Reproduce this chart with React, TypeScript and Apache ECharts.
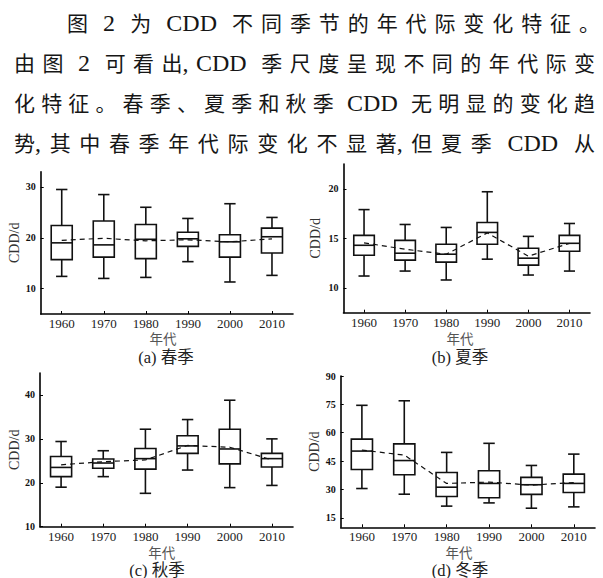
import React, { useEffect, useRef } from "react";
import * as echarts from "echarts";

// ---------- data ----------
const decades = ["1960", "1970", "1980", "1990", "2000", "2010"];

// each row: [lower whisker, Q1, median, Q3, upper whisker]
const springBox = [
  [12.4, 15.7, 19.0, 22.4, 29.5],
  [12.0, 16.2, 18.6, 23.3, 28.5],
  [12.2, 15.9, 19.7, 22.6, 26.0],
  [15.3, 18.3, 19.8, 21.1, 23.8],
  [11.3, 16.2, 19.2, 20.6, 26.7],
  [12.6, 17.0, 20.2, 21.9, 24.0],
];
const springMean = [19.5, 19.9, 19.4, 19.6, 19.2, 19.8];

const summerBox = [
  [11.2, 13.3, 14.3, 15.3, 17.9],
  [11.7, 12.8, 13.5, 14.8, 16.4],
  [10.8, 12.6, 13.4, 14.4, 16.1],
  [12.9, 14.4, 15.6, 16.6, 19.7],
  [11.3, 12.3, 13.0, 14.0, 15.2],
  [11.7, 13.7, 14.5, 15.3, 16.5],
];
const summerMean = [14.55, 13.9, 13.4, 15.55, 13.2, 14.5];

const autumnBox = [
  [19.0, 21.4, 23.5, 26.0, 29.4],
  [21.4, 23.3, 24.5, 25.4, 27.3],
  [17.6, 23.1, 25.5, 27.8, 32.2],
  [22.9, 26.7, 28.4, 30.7, 34.4],
  [18.9, 24.3, 27.7, 32.2, 38.8],
  [19.4, 23.6, 25.5, 26.7, 30.0],
];
const autumnMean = [24.1, 24.8, 25.2, 28.5, 28.1, 25.2];

const winterBox = [
  [30.5, 40.6, 50.3, 56.6, 74.5],
  [27.5, 37.8, 45.3, 54.1, 76.9],
  [21.2, 26.3, 31.2, 39.0, 49.6],
  [22.9, 25.6, 33.2, 39.9, 54.4],
  [20.1, 27.4, 32.5, 36.4, 42.7],
  [20.8, 28.4, 33.2, 38.1, 48.7],
];
const winterMean = [50.8, 48.2, 33.2, 33.9, 32.3, 33.7];

const springTicks = [10, 20, 30];
const summerTicks = [10, 15, 20];
const autumnTicks = [10, 20, 30, 40];
const winterTicks = [15, 30, 45, 60, 75, 90];

const panelTitles = ["(a) 春季", "(b) 夏季", "(c) 秋季", "(d) 冬季"];
const xAxisTitle = "年代";
const yAxisTitle = "CDD/d";

const paragraphLines = [
  "图 2 为 CDD 不同季节的年代际变化特征。",
  "由图 2 可看出,CDD 季尺度呈现不同的年代际变",
  "化特征。春季、夏季和秋季 CDD 无明显的变化趋",
  "势,其中春季年代际变化不显著,但夏季 CDD 从",
];

// ---------- layout ----------
const SERIF = '"Liberation Serif", "Times New Roman", serif';
const CJK = '"Noto Sans CJK SC", sans-serif';
const MIXED = '"Liberation Serif", "Noto Sans CJK SC", serif';

const panels = [
  { box: springBox, mean: springMean, ticks: springTicks, min: 5, max: 33,
    grid: { left: 40.7, top: 171.7, width: 252.3, height: 142.3 }, nameGap: 17.5,
    xName: [163, 338.3], title: [166, 357.3] },
  { box: summerBox, mean: summerMean, ticks: summerTicks, min: 7.5, max: 22.5,
    grid: { left: 343.5, top: 164, width: 246.5, height: 148.7 }, nameGap: 21,
    xName: [460, 338.3], title: [460, 357] },
  { box: autumnBox, mean: autumnMean, ticks: autumnTicks, min: 10, max: 45,
    grid: { left: 40, top: 373, width: 253, height: 153.7 }, nameGap: 16.5,
    xName: [161.7, 551.7], title: [157, 570] },
  { box: winterBox, mean: winterMean, ticks: winterTicks, min: 10, max: 90,
    grid: { left: 340.7, top: 376, width: 254.3, height: 151.3 }, nameGap: 15,
    xName: [459, 551.7], title: [460, 570] },
];

const CJK_FS = 21;
const LAT_FS = 24;

function buildParagraph(): any[] {
  const canvas = document.createElement("canvas");
  const ctx = canvas.getContext("2d")!;
  ctx.font = `${LAT_FS}px "Liberation Serif"`;
  const spaceW = LAT_FS * 0.3;
  const els: any[] = [];
  const lineX0 = [67, 14, 14, 14];
  const lineX1 = [600, 595, 595, 595];
  paragraphLines.forEach((line, li) => {
    const tokens: { t: string; cjk: boolean; sp: number; attach: boolean; w: number }[] = [];
    let pending = 0;
    for (const ch of line) {
      if (ch === " ") { pending++; continue; }
      const cjk = ch.charCodeAt(0) > 0x2e7f;
      if (cjk) {
        tokens.push({ t: ch, cjk: true, sp: pending, attach: false, w: 0 });
      } else if (ch === ",") {
        tokens.push({ t: ch, cjk: false, sp: pending, attach: true, w: 0 });
      } else {
        const last = tokens[tokens.length - 1];
        if (last && !last.cjk && last.t !== "," && pending === 0) last.t += ch;
        else tokens.push({ t: ch, cjk: false, sp: pending, attach: false, w: 0 });
      }
      pending = 0;
    }
    let fixed = 0;
    let gaps = 0;
    tokens.forEach((tk, i) => {
      tk.w = tk.cjk ? CJK_FS : ctx.measureText(tk.t).width;
      fixed += tk.w + tk.sp * spaceW;
      if (i > 0 && !tk.attach) gaps++;
    });
    const g = (lineX1[li] - lineX0[li] - fixed) / gaps;
    let x = lineX0[li];
    const y = 21.5 + li * 40.3;
    tokens.forEach((tk, i) => {
      if (i > 0) x += tk.sp * spaceW + (tk.attach ? 0 : g);
      els.push({
        type: "text", x, y: tk.cjk ? y : y + 1, silent: true,
        style: {
          text: tk.t, fontSize: tk.cjk ? CJK_FS : LAT_FS,
          fontFamily: tk.cjk ? CJK : SERIF, fill: "#161616",
          align: "left", verticalAlign: "middle",
        },
      });
      x += tk.w;
    });
  });
  return els;
}

function renderBox(params: any, api: any) {
  const i = api.value(0);
  const lo = api.coord([i, api.value(1)]);
  const q1 = api.coord([i, api.value(2)]);
  const md = api.coord([i, api.value(3)]);
  const q3 = api.coord([i, api.value(4)]);
  const hi = api.coord([i, api.value(5)]);
  const band = api.size([1, 0])[0];
  const bw = band * 0.5;
  const cw = band * 0.27;
  const cx = md[0];
  const st = { stroke: "#111", lineWidth: 1.6, fill: "none" };
  return {
    type: "group",
    children: [
      { type: "line", shape: { x1: cx, y1: hi[1], x2: cx, y2: q3[1] }, style: st },
      { type: "line", shape: { x1: cx, y1: q1[1], x2: cx, y2: lo[1] }, style: st },
      { type: "line", shape: { x1: cx - cw / 2, y1: hi[1], x2: cx + cw / 2, y2: hi[1] }, style: st },
      { type: "line", shape: { x1: cx - cw / 2, y1: lo[1], x2: cx + cw / 2, y2: lo[1] }, style: st },
      { type: "rect", shape: { x: cx - bw / 2, y: q3[1], width: bw, height: q1[1] - q3[1] }, style: st },
      { type: "line", shape: { x1: cx - bw / 2, y1: md[1], x2: cx + bw / 2, y2: md[1] }, style: st },
    ],
  };
}

function buildOption() {
  const grid: any[] = [];
  const xAxis: any[] = [];
  const yAxis: any[] = [];
  const series: any[] = [];
  const graphics: any[] = buildParagraph();

  panels.forEach((p, k) => {
    grid.push({ ...p.grid, containLabel: false });
    xAxis.push({
      type: "category", gridIndex: k, data: decades, boundaryGap: true,
      axisLine: { show: true, lineStyle: { color: "#000", width: 1.6 } },
      axisTick: { show: true, inside: true, alignWithLabel: true, length: 3, lineStyle: { color: "#000", width: 1 } },
      axisLabel: { fontFamily: SERIF, fontSize: 13, color: "#222", margin: 3 },
      splitLine: { show: false },
    });
    yAxis.push({
      type: "value", gridIndex: k, min: p.min, max: p.max,
      name: yAxisTitle, nameLocation: "middle", nameGap: p.nameGap, nameRotate: 90,
      nameTextStyle: { fontFamily: SERIF, fontSize: 14, color: "#333" },
      axisLine: { show: true, lineStyle: { color: "#000", width: 1.6 } },
      axisTick: { show: true, inside: true, length: 3, customValues: p.ticks, lineStyle: { color: "#000", width: 1 } },
      axisLabel: { customValues: p.ticks, fontFamily: SERIF, fontSize: 10, fontWeight: "bold", color: "#111", margin: 5 },
      splitLine: { show: false },
    });
    series.push({
      type: "custom", xAxisIndex: k, yAxisIndex: k,
      renderItem: renderBox,
      encode: { x: 0, y: [1, 2, 3, 4, 5] },
      data: p.box.map((row, i) => [i, ...row]),
      z: 2,
    });
    series.push({
      type: "line", xAxisIndex: k, yAxisIndex: k, data: p.mean,
      symbol: "none", lineStyle: { color: "#111", width: 1.2, type: [5, 4] }, z: 3,
    });
    graphics.push({
      type: "text", x: p.xName[0], y: p.xName[1], silent: true,
      style: { text: xAxisTitle, fontFamily: CJK, fontSize: 13.5, fill: "#555", align: "center", verticalAlign: "middle" },
    });
    graphics.push({
      type: "text", x: p.title[0], y: p.title[1], silent: true,
      style: { text: panelTitles[k], fontFamily: MIXED, fontSize: 16.5, fill: "#222", align: "center", verticalAlign: "middle" },
    });
  });

  return {
    animation: false,
    backgroundColor: "#fff",
    grid, xAxis, yAxis, series,
    graphic: { elements: graphics },
  };
}

export default function App() {
  const ref = useRef<HTMLDivElement>(null);
  useEffect(() => {
    const chart = echarts.init(ref.current!, null, { renderer: "svg" });
    chart.setOption(buildOption());
    return () => chart.dispose();
  }, []);
  return (
    <div
      ref={ref}
      style={{ position: "absolute", left: 0, top: 0, width: 603, height: 578, background: "#fff" }}
    />
  );
}
